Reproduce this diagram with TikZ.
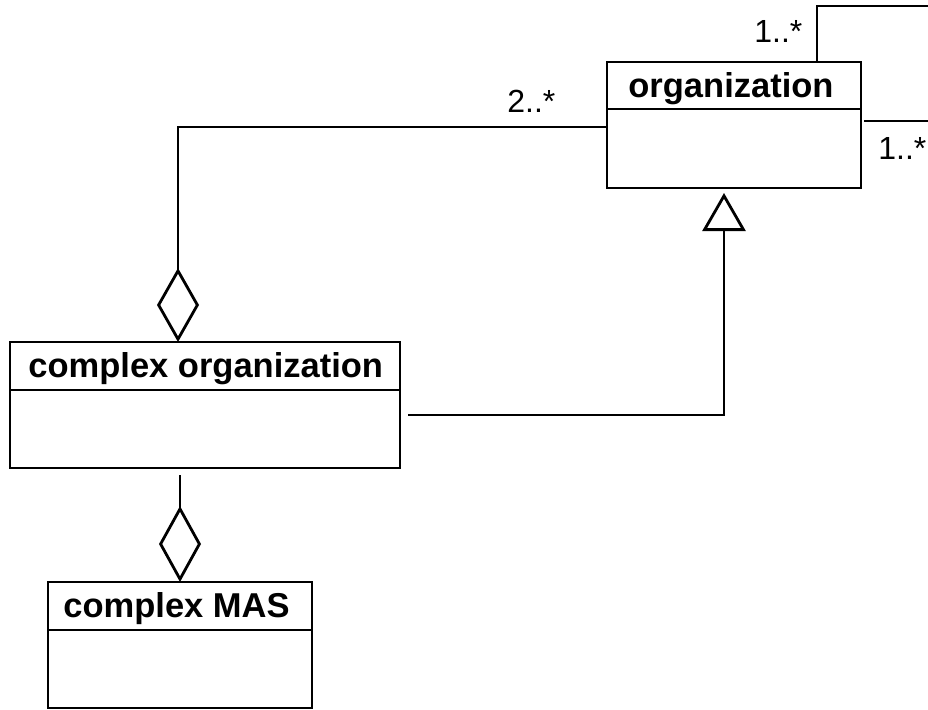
\documentclass[tikz,border=0pt]{standalone}
\usepackage{fontspec}
\setmainfont{Liberation Sans}
\usetikzlibrary{arrows.meta}
\begin{document}
\begin{tikzpicture}[x=1pt,y=-1pt,line width=2.8pt,
  classbox/.style={draw,rectangle,inner sep=0pt,outer sep=0pt,minimum height=126pt},
  classname/.style={anchor=base west,inner sep=0pt,font=\fontsize{34.5}{40}\selectfont\bfseries},
  mult/.style={anchor=base west,inner sep=0pt,font=\fontsize{32}{38}\selectfont},
  aggr/.style={-{Diamond[open,length=74pt,width=42pt,line width=2.8pt]}},
  aggrlow/.style={-{Diamond[open,length=76pt,width=42pt,line width=2.8pt]}},
  gen/.style={-{Triangle[open,length=38pt,width=43pt,line width=2.8pt]},shorten >=5pt}]
\useasboundingbox (0,0) rectangle (928,709);
\clip (0,0) rectangle (928,709);

% classes
\node[classbox,minimum width=254pt] (org) at (734,125) {};
\node[classbox,minimum width=390pt] (corg) at (205,405) {};
\node[classbox,minimum width=264pt] (mas) at (180,645) {};

% header dividers
\draw ([yshift=-47pt]org.north west) -- ([yshift=-47pt]org.north east);
\draw ([yshift=-48pt]corg.north west) -- ([yshift=-48pt]corg.north east);
\draw ([yshift=-48pt]mas.north west) -- ([yshift=-48pt]mas.north east);

% class names
\node[classname] (orgname) at (627,97) {organization};
\node[classname] (corgname) at (27,377.5) {complex organization};
\node[classname] (masname) at (62,617) {complex MAS};

% multiplicities
\node[mult] (mtop) at (753,43) {1..*};
\node[mult] (mright) at (877,159) {1..*};
\node[mult] (mleft) at (506,112) {2..*};

% reflexive association on organization
\coordinate (loopTop) at (935,6);
\coordinate (loopEnd) at (935,121);
\draw ([xshift=83pt]org.north) |- (loopTop);
\draw (loopEnd) -- ([xshift=3pt,yshift=4pt]org.east);

% aggregation: complex organization has organizations
\draw[aggr] ([yshift=-2pt]org.west) -| ([xshift=-27pt]corg.north);

% generalization: complex organization is an organization
\draw[gen] ([xshift=8pt,yshift=-10pt]corg.east) -| ([xshift=-10pt]org.south);

% aggregation: complex MAS in complex organization
\draw[aggrlow] ([xshift=-25pt,yshift=-7pt]corg.south) -- (mas.north);
\end{tikzpicture}
\end{document}
